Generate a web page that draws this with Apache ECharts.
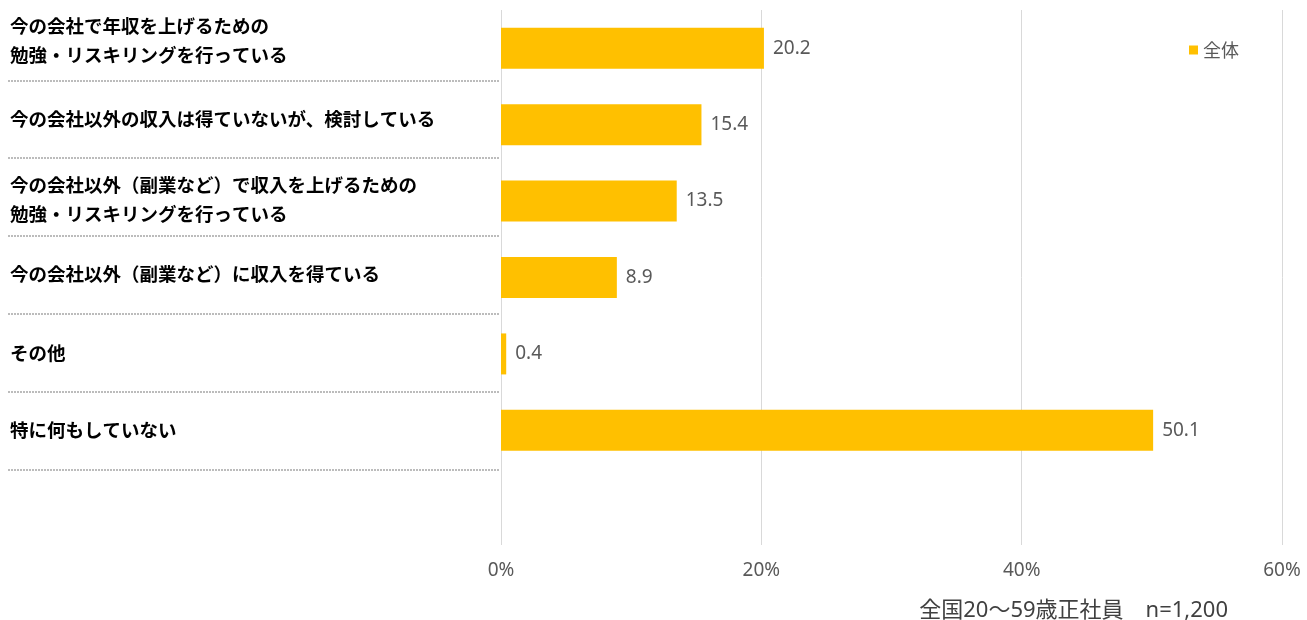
<!DOCTYPE html>
<html><head><meta charset="utf-8">
<script src="https://cdn.jsdelivr.net/npm/echarts@6/dist/echarts.min.js"></script>
<style>html,body{margin:0;padding:0;background:#fff}#c{width:1307px;height:620px}</style>
</head><body><div id="c"></div>
<script>
const categories = [
  '今の会社で年収を上げるための\n勉強・リスキリングを行っている',
  '今の会社以外の収入は得ていないが、検討している',
  '今の会社以外（副業など）で収入を上げるための\n勉強・リスキリングを行っている',
  '今の会社以外（副業など）に収入を得ている',
  'その他',
  '特に何もしていない',
  ''
];
const values = [20.2, 15.4, 13.5, 8.9, 0.4, 50.1, null];
const seriesName = '全体';
const xTicks = [0, 20, 40, 60];
const footnote = '全国20〜59歳正社員　n=1,200';

// extra blank height under each label (shifts the label up by half of it)
const labelShift = [15, 11, 3, 8, 2, 0, 0];
const sepY = [81, 158, 236, 314, 392, 470];

const txt = {fontSize: 18.5, fontWeight: 'bold', color: '#000', lineHeight: 28.5,
  fontFamily: '"Noto Sans CJK JP", sans-serif', align: 'left'};
const rich = {t: txt};
labelShift.forEach(s => { if (s > 0) rich['g' + s] = {fontSize: 1, lineHeight: s, height: s, align: 'left'}; });

const chart = echarts.init(document.getElementById('c'), null, {renderer: 'canvas'});
chart.setOption({
  animation: false,
  backgroundColor: '#fff',
  textStyle: {fontFamily: '"Noto Sans CJK JP", "Noto Sans", sans-serif'},
  title: {
    text: footnote, right: 74, top: 595,
    textStyle: {fontSize: 22, fontWeight: 'normal', color: '#404040', fontFamily: '"Noto Sans", "Noto Sans CJK JP", sans-serif'}
  },
  legend: {
    data: [seriesName], right: 63, top: 36, icon: 'rect', itemWidth: 9, itemHeight: 9, itemGap: 6,
    textStyle: {fontSize: 18, color: '#595959'}
  },
  grid: {left: 501, right: 25, top: 10, bottom: 75, containLabel: false, outerBoundsMode: 'none'},
  xAxis: {
    type: 'value', min: xTicks[0], max: xTicks[xTicks.length - 1], interval: 20,
    axisLine: {show: false}, axisTick: {show: false},
    splitLine: {show: true, lineStyle: {color: '#d9d9d9', width: 1}},
    axisLabel: {formatter: v => v + '%', fontSize: 19, color: '#595959', margin: 16, fontFamily: '"Noto Sans", sans-serif'}
  },
  yAxis: {
    type: 'category', inverse: true,
    data: categories,
    axisLine: {show: false}, axisTick: {show: false},
    axisLabel: {
      margin: 491, align: 'left', verticalAlign: 'middle',
      formatter: (v, i) => {
        if (!v) return '';
        const body = v.split('\n').map(l => '{t|' + l + '}').join('\n');
        const s = labelShift[i];
        return s > 0 ? body + '\n{g' + s + '| }' : body;
      },
      rich: rich
    }
  },
  series: [{
    name: seriesName, type: 'bar', data: values, barWidth: 41,
    itemStyle: {color: '#FFC000'},
    label: {show: true, position: 'right', distance: 9, fontSize: 19, color: '#595959',
      formatter: p => p.value.toFixed(1), fontFamily: '"Noto Sans", sans-serif'}
  }],
  graphic: sepY.map(y => ({
    type: 'line', shape: {x1: 8, y1: y, x2: 500, y2: y},
    style: {stroke: '#a6a6a6', lineWidth: 1.5, lineDash: [2, 1]}, silent: true
  }))
});
</script></body></html>
